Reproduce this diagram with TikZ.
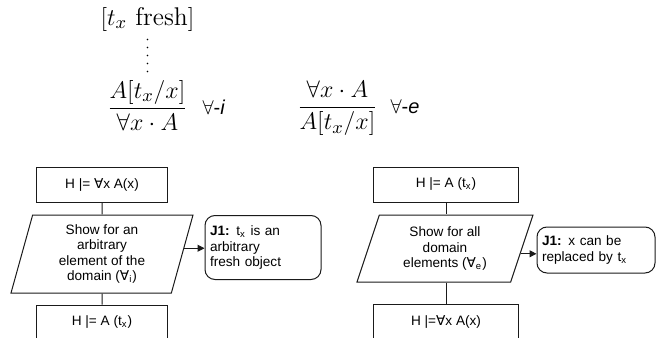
\documentclass[tikz,border=0pt]{standalone}
\usepackage{amsmath}
\usepackage{fontspec}
\usetikzlibrary{shapes.geometric,arrows.meta,positioning}

\newfontfamily\flowfont{Liberation Sans}
\newfontfamily\symfont{DejaVu Sans}
\newcommand{\fa}{{\symfont ∀}}

\definecolor{boxline}{HTML}{1A1A1A}

\begin{document}
\begin{tikzpicture}[
    x=0.5pt, y=-0.5pt,
    flow/.style={font=\flowfont\fontsize{6.8}{7.8}\selectfont, draw=boxline, line width=0.5pt},
    stmt/.style={flow, rectangle, inner sep=0pt, minimum height=17.5pt},
    para/.style={flow, trapezium, trapezium stretches body, align=center, inner sep=0pt},
    just/.style={flow, rectangle, rounded corners=5pt, align=left, inner xsep=2.5pt, inner ysep=0pt},
    link/.style={draw=boxline, line width=0.5pt},
    arr/.style={link, -{Triangle[length=3.5pt, width=3.5pt]}},
    dots/.style={line width=0.9pt, line cap=round, dash pattern=on 0pt off 4pt,
        shorten <=4pt, shorten >=2.6pt},
    rulemath/.style={inner sep=0pt, font=\fontsize{12.8}{15}\selectfont},
    rulename/.style={inner sep=0pt, font=\fontsize{10}{12}\selectfont},
]
\useasboundingbox (0,0) rectangle (671,338);
\clip (0,0) rectangle (671,338);

% Rules
\node[rulemath] (fresh) at (147.5,19) {$[t_x\ \textrm{fresh}]$};
\node[rulemath, anchor=base] (intro) at (147.5,114.4) {$\dfrac{A[t_x/x]}{\forall x\cdot A}$};
\node[rulename, base right=7pt of intro] (introname) {$\forall${\flowfont -\itshape i}};
\draw[dots] (fresh) -- (intro);

\node[rulemath, anchor=base] (elim) at (337.5,113.4) {$\dfrac{\forall x\cdot A}{A[t_x/x]}$};
\node[rulename, base right=6pt of elim] (elimname) {$\forall${\flowfont -\itshape e}};

% Flow for forall-i
\node[stmt, minimum width=65.5pt] (goal1) at (102,184.5) {H |= \fa x A(x)};
\node[para, trapezium left angle=70, trapezium right angle=110,
    minimum width=91pt, minimum height=39pt] (show1) at (102,254)
    {Show for an\\arbitrary\\element of the\\domain (\fa\textsubscript{i})};
\node[just, text width=53pt, minimum height=32pt] (just1) at (263,247.5)
    {\textbf{J1:} t\textsubscript{x} is an\\arbitrary\\fresh object};
\node[stmt, minimum width=65.5pt] (res1) at (102,322.5) {H |= A (t\textsubscript{x})};

\draw[link] (goal1) -- (show1) -- (res1);
\draw[arr] (show1.4) -- (show1.4 -| just1.west);

% Flow for forall-e
\node[stmt, minimum width=72.5pt] (goal2) at (446,184.5) {H |= A (t\textsubscript{x})};
\node[para, trapezium left angle=63, trapezium right angle=117,
    minimum width=88pt, minimum height=33.5pt] (show2) at (445,248.5)
    {Show for all\\domain\\elements (\fa\textsubscript{e})};
\node[just, text width=54pt, minimum height=23pt] (just2) at (596,250)
    {\textbf{J1:} x can be\\replaced by t\textsubscript{x}};
\node[stmt, minimum width=72.5pt] (res2) at (446,322) {H |=\fa x A(x)};

\draw[link] (goal2) -- (goal2 |- show2.north);
\draw[link] (res2 |- show2.south) -- (res2);
\draw[arr] (show2.-4) -- (show2.-4 -| just2.west);

\end{tikzpicture}
\end{document}
